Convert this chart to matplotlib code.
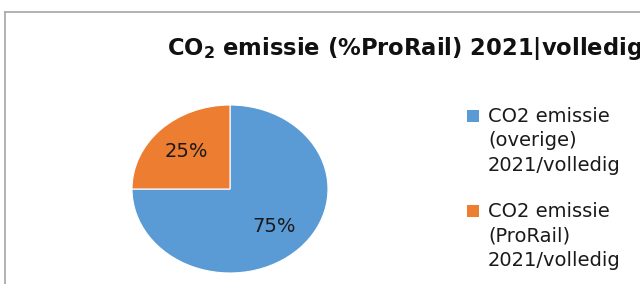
import matplotlib
matplotlib.use("Agg")
import matplotlib.pyplot as plt
from matplotlib.lines import Line2D
from matplotlib.patches import Rectangle

labels = ["CO2 emissie\n(overige)\n2021/volledig", "CO2 emissie\n(ProRail)\n2021/volledig"]
values = [75, 25]
colors = ["#5B9BD5", "#ED7D31"]
title = r"CO$_{\mathbf{2}}$ emissie (%ProRail) 2021|volledig"

plt.rcParams['font.family'] = ['DejaVu Sans']
plt.rcParams['mathtext.fontset'] = 'dejavusans'

W, H = 640, 284
fig = plt.figure(figsize=(W / 100, H / 100), dpi=100)
fig.patch.set_facecolor("white")

def fx(x):
    return x / W

def fy(y):
    return 1 - y / H

# frame of the chart area (cut off at right and bottom)
fig.add_artist(Line2D([fx(5), fx(5)], [0, fy(12)], color="#a6a6a6", lw=1.2, transform=fig.transFigure))
fig.add_artist(Line2D([fx(5), 1], [fy(12), fy(12)], color="#a6a6a6", lw=1.2, transform=fig.transFigure))

ax = fig.add_axes([fx(132), fy(273), (328 - 132) / W, (273 - 105) / H])
wedges, texts, autotexts = ax.pie(values, colors=colors, startangle=90, counterclock=False,
                                  autopct=lambda p: f"{p:.0f}%", pctdistance=0.63,
                                  wedgeprops=dict(linewidth=0.8, edgecolor="white"),
                                  textprops=dict(fontsize=14, color="#1a1a1a"))
ax.set_aspect('auto')
ax.set_xlim(-1, 1)
ax.set_ylim(-1, 1)
ax.axis('off')

fig.text(fx(167), fy(55), title, fontsize=16.3, fontweight='bold', ha='left', va='baseline',
         color="#111111")

# legend (square aligned with first line of each label)
entry_top = [122, 217]
pitch = 24.5
for lab, col, base in zip(labels, colors, entry_top):
    fig.add_artist(Rectangle((fx(467), fy(base)), 12 / W, 12 / H, facecolor=col,
                             edgecolor='none', transform=fig.transFigure))
    for i, line in enumerate(lab.split("\n")):
        fig.text(fx(488), fy(base + i * pitch), line, fontsize=14, ha='left', va='baseline',
                 color="#1a1a1a")

fig.savefig("out.png", dpi=100)
